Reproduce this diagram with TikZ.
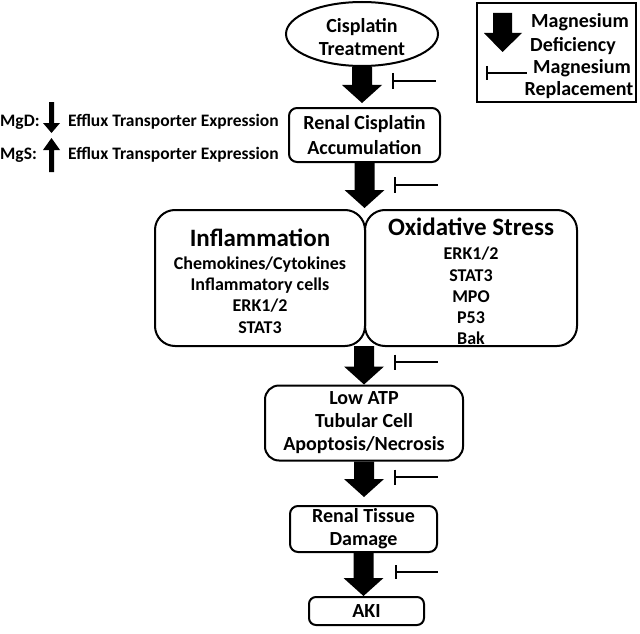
\documentclass[tikz,border=0pt]{standalone}
\usepackage{fontspec}
\setmainfont{Carlito}
\usetikzlibrary{calc,arrows.meta,shapes.geometric}
\newcommand\bigarrow[2]{\fill let \p1=(#1), \p2=(#2) in
  (\x1-10pt,\y1) -- (\x1+10pt,\y1) -- (\x1+10pt,\y2+18pt) -- (\x1+20pt,\y2+18pt)
  -- (\x1,\y2) -- (\x1-20pt,\y2+18pt) -- (\x1-10pt,\y2+18pt) -- cycle;}
\newcommand\inhibitor[3]{\draw[line width=2pt] (#1) -- (#2);
  \draw[line width=2.5pt] ($(#1)+(0,-#3)$) -- ($(#1)+(0,#3)$);}
\begin{document}
\begin{tikzpicture}[x=1pt,y=-1pt,
  box/.style={draw, line width=2pt, align=center, inner sep=0pt},
  lbl/.style={font=\bfseries\fontsize{20}{23}\selectfont, align=center},
  ttl/.style={font=\bfseries\fontsize{25}{28}\selectfont, align=center},
  sub/.style={font=\bfseries\fontsize{18}{21.2}\selectfont, align=center},
  side/.style={font=\bfseries\fontsize{17.5}{20}\selectfont},
]
\useasboundingbox (0,0) rectangle (640,634);

% main chain
\node[box, ellipse, minimum width=152pt, minimum height=64pt] (cis) at (362,34) {};
\node[lbl] (cist) at (362,37) {Cisplatin\\Treatment};
\node[box, rounded corners=8pt, minimum width=151pt, minimum height=54pt, lbl, font=\bfseries\fontsize{20}{25}\selectfont] (ren) at (364.5,135) {Renal Cisplatin\\Accumulation};
\node[box, rounded corners=20pt, minimum width=210pt, minimum height=136pt] (infl) at (260,278) {};
\node[box, rounded corners=20pt, minimum width=212pt, minimum height=136pt] (ox) at (471,278) {};
\coordinate (jtop) at (364,208);
\coordinate (jbot) at (364,346);
\node[ttl] (inflt) at (260,238) {Inflammation};
\node[sub] (infls) at (260,295) {Chemokines/Cytokines\\Inflammatory cells\\ERK1/2\\STAT3};
\node[ttl] (oxt) at (471,227) {Oxidative Stress};
\node[sub] (oxs) at (471,296) {ERK1/2\\STAT3\\MPO\\P53\\Bak};
\node[box, rounded corners=14pt, minimum width=198pt, minimum height=75pt, lbl] (atp) at (364,423) {Low ATP\\Tubular Cell\\Apoptosis/Necrosis};
\node[box, rounded corners=8pt, minimum width=147pt, minimum height=46pt, lbl] (tis) at (363.5,529) {Renal Tissue\\Damage};
\node[box, rounded corners=7pt, minimum width=115pt, minimum height=28pt, lbl] (aki) at (366.5,611) {AKI};

% big arrows
\bigarrow{cis.south}{$(ren.north)+(0,-4)$}
\bigarrow{ren.south}{jtop}
\bigarrow{jbot}{atp.north}
\bigarrow{atp.south}{$(tis.north)+(0,-8)$}
\bigarrow{tis.south}{aki.north}

% inhibitors
\coordinate (b1) at (393,81);  \coordinate (e1) at (436,81);
\coordinate (b2) at (395,185); \coordinate (e2) at (438,185);
\coordinate (b3) at (395,362); \coordinate (e3) at (438,362);
\coordinate (b4) at (395,477); \coordinate (e4) at (438,477);
\coordinate (b5) at (396,572); \coordinate (e5) at (438,572);
\inhibitor{b1}{e1}{8}
\inhibitor{b2}{e2}{8}
\inhibitor{b3}{e3}{7.5}
\inhibitor{b4}{e4}{7.5}
\inhibitor{b5}{e5}{7}

% left annotations
\node[side, anchor=west, inner sep=0pt] (mgd) at (0,122) {MgD:};
\node[side, anchor=west, inner sep=0pt] (mgs) at (0,155) {MgS:};
\node[side, anchor=west, inner sep=0pt] (ef1) at (68,122) {Efflux Transporter Expression};
\node[side, anchor=west, inner sep=0pt] (ef2) at (68,155) {Efflux Transporter Expression};
\fill (49,102) -- (54,102) -- (54,123) -- (60,123) -- (51.5,133) -- (43,123) -- (49,123) -- cycle;
\fill (49,172) -- (54,172) -- (54,150) -- (60,150) -- (51.5,138) -- (43,150) -- (49,150) -- cycle;

% legend
\node[draw, line width=2pt, minimum width=159pt, minimum height=99pt, inner sep=0pt] (leg) at (556.5,52.5) {};
\fill (493,13) -- (512,13) -- (512,33) -- (522,33) -- (502.5,52) -- (484,33) -- (493,33) -- cycle;
\coordinate (lb) at (487,73); \coordinate (le) at (527,73);
\inhibitor{lb}{le}{7}
\node[lbl] (l1) at (580,22) {Magnesium};
\node[lbl] (l2) at (573,46) {Deficiency};
\node[lbl] (l3) at (582,68) {Magnesium};
\node[lbl] (l4) at (579,90) {Replacement};
\end{tikzpicture}
\end{document}
